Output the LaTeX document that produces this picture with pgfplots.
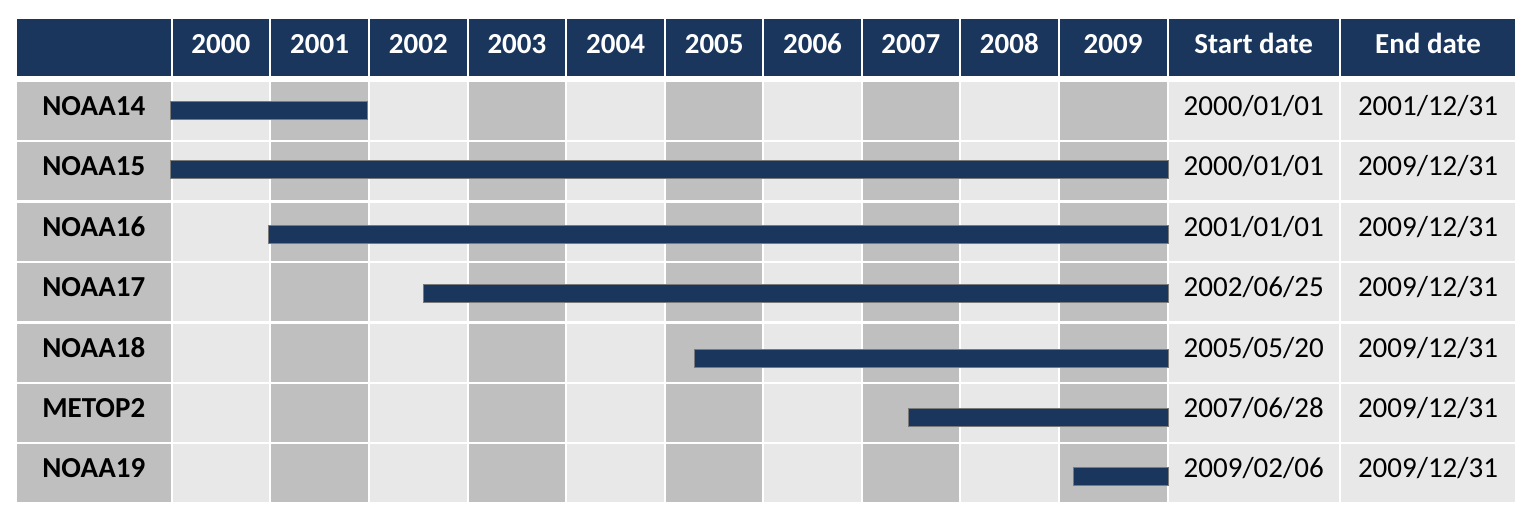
\documentclass[border=0pt]{standalone}
\usepackage{pgfplots}
\pgfplotsset{compat=1.18}
\usepackage{pgfplotstable}
\usepackage{fontspec}
\setmainfont{Carlito}
\definecolor{navy}{HTML}{1A365D}
\definecolor{lightc}{HTML}{E8E8E8}
\definecolor{darkc}{HTML}{BFBFBF}
\definecolor{bordc}{HTML}{7A7A7A}
\begin{document}
\begin{tikzpicture}
% table background (pixel frame: x right, y down, 1px = 0.5pt)
\begin{scope}[shift={(0,261.5pt)}, x=0.5pt, y=-0.5pt]
  \fontsize{14.5}{17}\selectfont
  % header row
  \fill[navy] (16.8,19.3) rectangle (170.7,76);
  \foreach \l/\rr in {172.7/268.8,271.3/368.0,370.0/466.6,468.6/565.3,567.3/664.0,666.0/762.3,764.3/860.7,862.7/959.0,961.0/1057.6,1059.6/1166.7}{
    \fill[navy] (\l,19.3) rectangle (\rr,76);
  }
  \fill[navy] (1168.5,19.3) rectangle (1339,76);
  \fill[navy] (1341,19.3) rectangle (1515,76);
  \foreach \k/\c in {2000/220.8,2001/319.6,2002/418.3,2003/516.9,2004/615.6,2005/714.2,2006/812.5,2007/910.8,2008/1009.3,2009/1113.1}{
    \node[anchor=base, text=white, font=\bfseries, inner sep=0pt] at (\c,53.3) {\k};
  }
  \node[anchor=base, text=white, font=\bfseries, inner sep=0pt] at (1253.7,53.3) {Start date};
  \node[anchor=base, text=white, font=\bfseries, inner sep=0pt] at (1428,53.3) {End date};
  % body rows
  \foreach \r in {1,...,7}{
    \pgfmathsetmacro{\top}{81.8+60.45*(\r-1)}
    \pgfmathsetmacro{\bot}{\top+58}
    \fill[darkc] (16.8,\top) rectangle (170.7,\bot);
    \foreach \l/\rr in {172.7/268.8,370.0/466.6,567.3/664.0,764.3/860.7,961.0/1057.6}{
      \fill[lightc] (\l,\top) rectangle (\rr,\bot);
    }
    \foreach \l/\rr in {271.3/368.0,468.6/565.3,666.0/762.3,862.7/959.0,1059.6/1166.7}{
      \fill[darkc] (\l,\top) rectangle (\rr,\bot);
    }
    \fill[lightc] (1168.5,\top) rectangle (1339,\bot);
    \fill[lightc] (1341,\top) rectangle (1515,\bot);
  }
  \foreach \name/\s/\e [count=\r from 0] in {NOAA14/2000\slash01\slash01/2001\slash12\slash31,
      NOAA15/2000\slash01\slash01/2009\slash12\slash31,
      NOAA16/2001\slash01\slash01/2009\slash12\slash31,
      NOAA17/2002\slash06\slash25/2009\slash12\slash31,
      NOAA18/2005\slash05\slash20/2009\slash12\slash31,
      METOP2/2007\slash06\slash28/2009\slash12\slash31,
      NOAA19/2009\slash02\slash06/2009\slash12\slash31}{
    \node[anchor=base, font=\bfseries, inner sep=0pt] at (93.8,{115.3+60.45*\r}) {\name};
    \node[anchor=base, inner sep=0pt] at (1253.7,{115.3+60.45*\r}) {\s};
    \node[anchor=base, inner sep=0pt] at (1428,{115.3+60.45*\r}) {\e};
  }
\end{scope}
\begin{axis}[
  at={(0,0)}, anchor=south west,
  scale only axis, width=766.5pt, height=261.5pt,
  xmin=1998.28758, xmax=2013.6483,
  ymin=-0.8329, ymax=7.8189, y dir=reverse,
  hide axis,
]
\path (rel axis cs:0,0) rectangle (rel axis cs:1,1);
% NOAA14
\addplot[fill=navy, draw=bordc, line width=0.5pt, mark=none] coordinates {(2000.00,0.8428) (2001.97,0.8428) (2001.97,1.1406) (2000.00,1.1406)} -- cycle;
% NOAA15
\addplot[fill=navy, draw=bordc, line width=0.5pt, mark=none] coordinates {(2000.00,1.8188) (2010.00,1.8188) (2010.00,2.1166) (2000.00,2.1166)} -- cycle;
% NOAA16
\addplot[fill=navy, draw=bordc, line width=0.5pt, mark=none] coordinates {(2000.98,2.8941) (2010.00,2.8941) (2010.00,3.1919) (2000.98,3.1919)} -- cycle;
% NOAA17
\addplot[fill=navy, draw=bordc, line width=0.5pt, mark=none] coordinates {(2002.53,3.8701) (2010.00,3.8701) (2010.00,4.1679) (2002.53,4.1679)} -- cycle;
% NOAA18
\addplot[fill=navy, draw=bordc, line width=0.5pt, mark=none] coordinates {(2005.25,4.9451) (2010.00,4.9451) (2010.00,5.2429) (2005.25,5.2429)} -- cycle;
% METOP2
\addplot[fill=navy, draw=bordc, line width=0.5pt, mark=none] coordinates {(2007.39,5.9281) (2010.00,5.9281) (2010.00,6.2259) (2007.39,6.2259)} -- cycle;
% NOAA19
\addplot[fill=navy, draw=bordc, line width=0.5pt, mark=none] coordinates {(2009.04,6.9011) (2010.00,6.9011) (2010.00,7.1989) (2009.04,7.1989)} -- cycle;
\end{axis}
\end{tikzpicture}
\end{document}
